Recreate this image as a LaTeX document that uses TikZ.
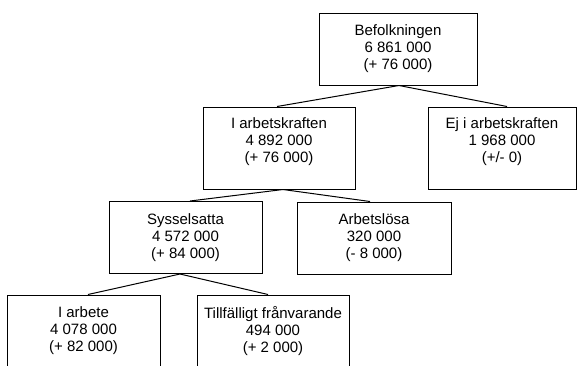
\documentclass[tikz,border=0pt]{standalone}
\usepackage{fontspec}
\setmainfont{Liberation Sans}
\begin{document}
\begin{tikzpicture}[
        x = 1pt, y = -1pt,
        box/.style = {draw, line width = 1pt, align = center, inner sep = 0pt,
            minimum width = 153pt, minimum height = 72pt,
            font = \fontsize{15}{17}\selectfont},
        tallbox/.style = {box, minimum height = 82pt, text depth = 16pt},
        link/.style = {draw, line width = 1pt},
    ]
    \clip (0,0) rectangle (577,365);

    \node (befolk) [box, minimum width = 158pt] at (398,49){Befolkningen\\6 861 000\\(+ 76 000)};
    \node (arbkraft) [tallbox, minimum width = 152pt] at (279,148){I arbetskraften\\4 892 000\\(+ 76 000)};
    \node (ejarb) [tallbox, minimum width = 148pt] at (502,148){Ej i arbetskraften\\1 968 000\\(+/- 0)};
    \node (syss) [box] at (185.5,237.5){Sysselsatta\\4 572 000\\(+ 84 000)};
    \node (arbl) [box, minimum width = 154pt] at (374,238){Arbetslösa\\320 000\\(- 8 000)};
    \node (iarbete) [box] at (83.5,331){I arbete\\4 078 000\\(+ 82 000)};
    \node (tillf) [box, minimum width = 152pt] at (273,331){Tillfälligt frånvarande\\494 000\\(+ 2 000)};

    \path[link] ([xshift=1pt]befolk.south) -- ([xshift=-2pt]arbkraft.north);
    \path[link] ([xshift=1pt]befolk.south) -- ([xshift=5pt]ejarb.north);
    \path[link] ([xshift=4pt]arbkraft.south) -- ([xshift=4.5pt]syss.north);
    \path[link] ([xshift=4pt]arbkraft.south) -- ([xshift=-4pt]arbl.north);
    \path[link] ([xshift=-5.5pt]syss.south) -- ([xshift=4.5pt]iarbete.north);
    \path[link] ([xshift=-5.5pt]syss.south) -- ([xshift=-5pt]tillf.north);
\end{tikzpicture}
\end{document}
